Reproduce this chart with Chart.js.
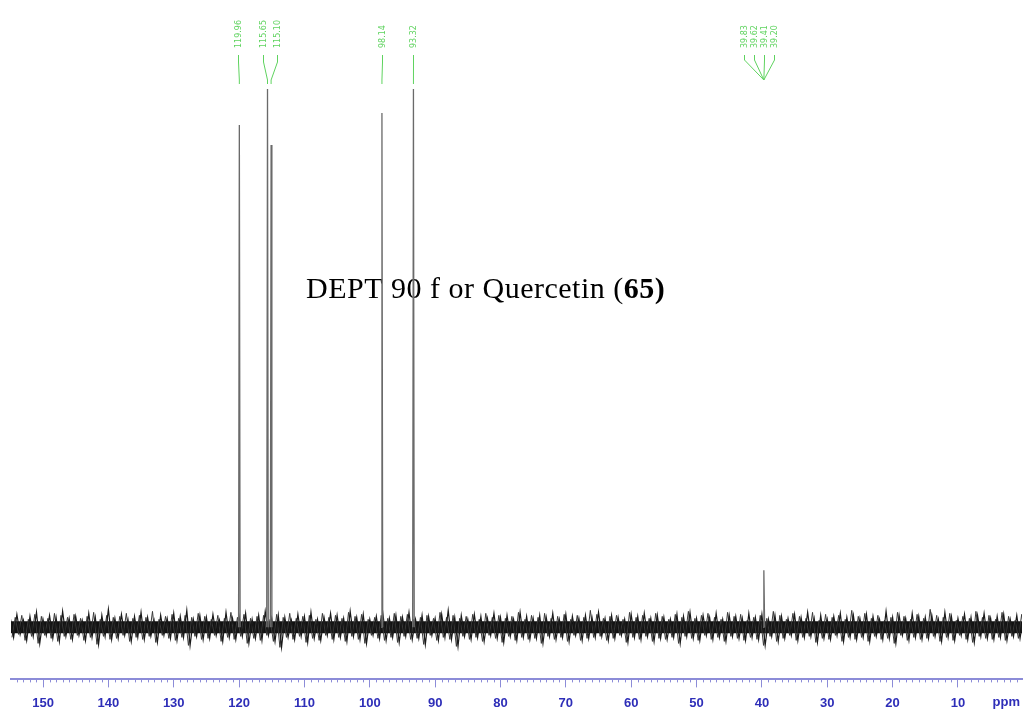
<!DOCTYPE html>
<html>
<head>
<meta charset="utf-8">
<script src="https://cdn.jsdelivr.net/npm/chart.js@4"></script>
<style>
  html, body { margin: 0; padding: 0; background: #fff; }
  #wrap { width: 1027px; height: 715px; position: relative; }
</style>
</head>
<body>
<div id="wrap"><canvas id="myChart"></canvas></div>
<script>
// peaks (ppm, height above baseline)
const peakPpm = [119.96, 115.65, 115.10, 98.14, 93.32, 39.70];
const peakHeight = [502, 538, 482, 514, 538, 57];

// green peak labels at the top
const labelText = ['119.96', '115.65', '115.10', '98.14', '93.32'];
const solventLabels = ['39.83', '39.62', '39.41', '39.20'];

// axis ticks
const tickValues = [150, 140, 130, 120, 110, 100, 90, 80, 70, 60, 50, 40, 30, 20, 10];

// noise band, one value per 1 ppm from 155 down to 0
const noiseStart = 155;
const noiseHi = [
  9,13,7,11,15,8,12,10,16,9,
  11,7,14,10,12,18,9,13,8,11,
  15,10,7,12,9,14,11,17,8,12,
  10,13,7,15,9,11,14,8,12,16,
  9,12,10,7,13,11,15,8,10,14,
  12,9,16,10,13,8,11,14,9,12,
  10,15,8,12,11,9,13,17,10,12,
  8,13,11,9,14,10,12,8,15,11,
  9,12,10,14,8,13,11,9,12,10,
  15,9,12,10,8,13,11,14,9,12,
  10,8,13,11,15,9,12,10,14,8,
  12,11,9,14,10,13,8,12,11,9,
  13,10,15,9,12,8,11,14,10,12,
  9,13,11,8,16,10,12,9,14,11,
  10,12,8,15,11,9,13,10,12,14,
  9,11,13,8,12,10
];
const noiseLo = [
  -10,-7,-13,-9,-16,-8,-11,-14,-9,-12,
  -8,-13,-10,-17,-9,-12,-11,-8,-14,-10,
  -12,-9,-15,-8,-11,-13,-10,-18,-9,-12,
  -11,-8,-14,-10,-12,-9,-16,-11,-13,-8,
  -14,-20,-10,-12,-9,-15,-11,-13,-8,-12,
  -10,-14,-9,-12,-16,-8,-11,-13,-10,-15,
  -9,-12,-11,-17,-8,-13,-10,-12,-19,-9,
  -12,-10,-14,-8,-11,-15,-9,-13,-10,-12,
  -11,-16,-9,-12,-10,-14,-8,-13,-11,-10,
  -9,-13,-11,-8,-15,-10,-12,-9,-14,-11,
  -12,-10,-16,-9,-11,-13,-8,-12,-10,-14,
  -9,-11,-13,-10,-12,-18,-9,-14,-11,-8,
  -13,-10,-9,-15,-11,-12,-8,-14,-10,-12,
  -10,-14,-9,-12,-11,-16,-8,-13,-10,-12,
  -11,-9,-14,-10,-13,-8,-12,-15,-9,-11,
  -12,-10,-13,-9,-11,-10
];
// dense core of the noise band
const coreTop = 6;
const coreBottom = -6;

// zigzag the band: top value, then bottom value half a ppm later
let noisePts = [];
noiseHi.forEach((v, i) => {
  noisePts.push({ x: noiseStart - i, y: v });
  noisePts.push({ x: noiseStart - i - 0.5, y: noiseLo[i] });
});
// second pass, same values read the other way round, fills the gaps
let noisePts2 = [];
noiseLo.forEach((v, i) => {
  noisePts2.push({ x: noiseStart - i - 0.25, y: v });
  noisePts2.push({ x: noiseStart - i - 0.75, y: noiseHi[noiseHi.length - 1 - i] });
});

let peakPts = [];
peakPpm.forEach((p, i) => {
  peakPts.push({ x: p + 0.12, y: 0 });
  peakPts.push({ x: p, y: peakHeight[i] });
  peakPts.push({ x: p - 0.12, y: 0 });
  peakPts.push({ x: p - 0.13, y: null });
});

const axisBlue = '#2e2eb8';

const extras = {
  id: 'extras',
  beforeDatasetsDraw(chart) {
    // title sits behind the peaks
    const c = chart.ctx;
    c.save();
    c.fillStyle = '#000';
    c.textAlign = 'left';
    c.textBaseline = 'alphabetic';
    c.letterSpacing = '0.5px';
    const t1 = 'DEPT 90 f or Quercetin (';
    c.font = '30px "Liberation Serif", "Times New Roman", serif';
    let x = 306;
    c.fillText(t1, x, 298);
    x += c.measureText(t1).width;
    c.font = 'bold 30px "Liberation Serif", "Times New Roman", serif';
    c.fillText('65)', x, 298);
    c.restore();
  },
  afterDraw(chart) {
    const c = chart.ctx;
    const xs = chart.scales.x;
    const bottom = chart.chartArea.bottom;

    // minor ticks every 1 ppm
    c.save();
    c.strokeStyle = '#8c8cd8';
    c.lineWidth = 1;
    for (let p = 1; p <= 154; p++) {
      if (p % 10 === 0) continue;
      const x = Math.round(xs.getPixelForValue(p)) + 0.5;
      c.beginPath();
      c.moveTo(x, bottom);
      c.lineTo(x, bottom + 3);
      c.stroke();
    }

    // ppm unit
    c.fillStyle = axisBlue;
    c.font = 'bold 13px "Liberation Sans", Arial, sans-serif';
    c.textAlign = 'center';
    c.textBaseline = 'middle';
    c.fillText('ppm', xs.getPixelForValue(2.6), 702);

    // green peak labels
    c.fillStyle = '#5fd35f';
    c.strokeStyle = '#5fd35f';
    c.font = '8px "DejaVu Sans", sans-serif';
    const labelX = [238, 263, 277, 382, 413];
    const drawLabel = (txt, x) => {
      c.save();
      c.translate(x + 3, 48);
      c.rotate(-Math.PI / 2);
      c.textAlign = 'left';
      c.textBaseline = 'alphabetic';
      c.fillText(txt, 0, 0);
      c.restore();
    };
    labelText.forEach((t, i) => drawLabel(t, labelX[i]));
    // connector lines
    labelX.forEach((lx, i) => {
      const px = xs.getPixelForValue(peakPpm[i]);
      c.beginPath();
      c.moveTo(lx + 0.5, 55);
      c.lineTo(lx + 0.5, 62);
      c.lineTo(px, 80);
      c.lineTo(px, 84);
      c.stroke();
    });
    const sx = [744, 754, 764, 774];
    const sp = xs.getPixelForValue(peakPpm[5]);
    solventLabels.forEach((t, i) => {
      drawLabel(t, sx[i]);
      c.beginPath();
      c.moveTo(sx[i] + 0.5, 55);
      c.lineTo(sx[i] + 0.5, 60);
      c.lineTo(sp, 80);
      c.stroke();
    });
    c.restore();
  }
};

const ctx = document.getElementById('myChart');
const config = {
  type: 'line',
  data: {
    datasets: [
      {
        label: 'peaks',
        data: peakPts,
        borderColor: '#6a6a6a',
        borderWidth: 1.3,
        pointRadius: 0,
        spanGaps: false,
        tension: 0,
        order: 0
      },
      {
        label: 'noise',
        data: noisePts,
        borderColor: '#1a1a1a',
        borderWidth: 1.2,
        pointRadius: 0,
        tension: 0,
        fill: false,
        order: 1
      },
      {
        label: 'noise2',
        data: noisePts2,
        borderColor: '#3a3a3a',
        borderWidth: 1,
        pointRadius: 0,
        tension: 0,
        fill: false,
        order: 1
      },
      {
        label: 'coreTop',
        data: [{ x: 154.9, y: coreTop }, { x: 0.2, y: coreTop }],
        borderColor: '#111',
        backgroundColor: '#111',
        borderWidth: 0,
        pointRadius: 0,
        fill: '+1',
        order: 2
      },
      {
        label: 'coreBottom',
        data: [{ x: 154.9, y: coreBottom }, { x: 0.2, y: coreBottom }],
        borderColor: '#111',
        borderWidth: 0,
        pointRadius: 0,
        fill: false,
        order: 2
      }
    ]
  },
  options: {
    responsive: true,
    maintainAspectRatio: false,
    animation: false,
    layout: { padding: { left: 11, right: 5, top: 0, bottom: -4 } },
    plugins: { legend: { display: false }, tooltip: { enabled: false } },
    scales: {
      x: {
        type: 'linear',
        reverse: true,
        min: 0.2,
        max: 154.9,
        afterBuildTicks: (scale) => {
          scale.ticks = tickValues.map(v => ({ value: v }));
        },
        border: { color: '#8c8cd8', width: 2 },
        grid: {
          drawOnChartArea: false,
          tickLength: 8,
          tickColor: '#8c8cd8',
          tickWidth: 1
        },
        ticks: {
          color: axisBlue,
          padding: 8,
          maxRotation: 0,
          autoSkip: false,
          font: { family: '"Liberation Sans", Arial, sans-serif', size: 13, weight: 'bold' },
          callback: (v) => String(v)
        }
      },
      y: {
        display: false,
        min: -52,
        max: 627
      }
    }
  },
  plugins: [extras]
};

new Chart(ctx, config);
</script>
</body>
</html>
